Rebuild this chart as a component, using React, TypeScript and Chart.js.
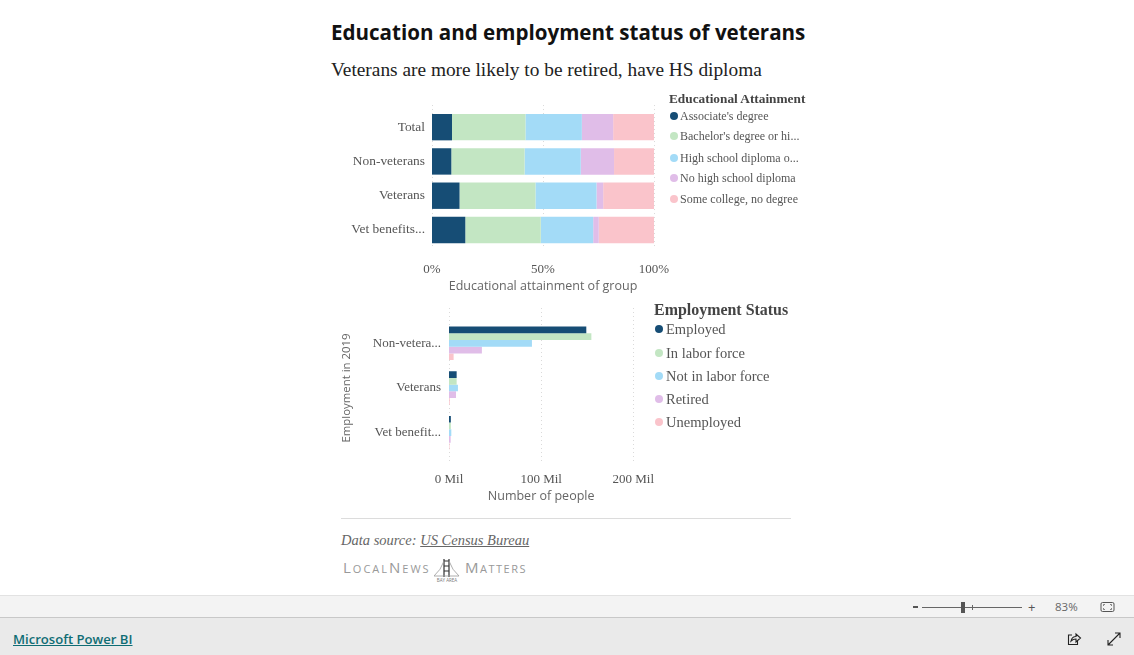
import React, { useEffect, useRef } from "react";
import { Chart, registerables } from "chart.js";

Chart.register(...registerables);

const SERIF = "'Liberation Serif', serif";
const SANS = "'Open Sans', sans-serif";
const TEXT = "#555555";

const palette = ["#164d75", "#c3e6c3", "#a3dbf7", "#e0bde8", "#fac4cb"];

const eduCategories = ["Total", "Non-veterans", "Veterans", "Vet benefits..."];
const eduLegend = ["Associate's degree", "Bachelor's degree or hi...", "High school diploma o...", "No high school diploma", "Some college, no degree"];
const associate = [9, 8.7, 12.4, 15];
const bachelor = [33.1, 33, 34.2, 34];
const highSchool = [25.4, 25.3, 27.5, 23.6];
const noDiploma = [14.1, 15, 3, 2.5];
const someCollege = [18.4, 18, 22.9, 24.9];

const empCategories = ["Non-vetera...", "Veterans", "Vet benefit..."];
const empLegend = ["Employed", "In labor force", "Not in labor force", "Retired", "Unemployed"];
const employed = [149, 8.3, 2];
const inLabor = [154.5, 8.3, 2];
const notInLabor = [90, 9.7, 2.5];
const retired = [35.7, 7.6, 1.8];
const unemployed = [5, 0.8, 0.5];

const eduLegendY = [116, 136, 158, 178, 199];
const empLegendY = [329, 353, 376, 399, 422];

const gridPlugin = (up: number, down: number) => ({
  id: "dottedGrid",
  beforeDatasetsDraw(chart: any) {
    const { ctx, scales, chartArea } = chart;
    ctx.save();
    ctx.strokeStyle = "#dadada";
    ctx.setLineDash([1, 3]);
    ctx.lineWidth = 1;
    scales.x.ticks.forEach((t: any) => {
      const x = Math.round(scales.x.getPixelForValue(t.value)) + 0.5;
      ctx.beginPath();
      ctx.moveTo(x, chartArea.top - up);
      ctx.lineTo(x, chartArea.bottom + down);
      ctx.stroke();
    });
    ctx.restore();
  },
});

function useChart(make: (c: HTMLCanvasElement) => Chart) {
  const ref = useRef<HTMLCanvasElement>(null);
  useEffect(() => {
    const chart = make(ref.current!);
    return () => chart.destroy();
  }, []);
  return ref;
}

const abs = (left: number, top: number, extra: React.CSSProperties = {}): React.CSSProperties => ({
  position: "absolute",
  left,
  top,
  whiteSpace: "nowrap",
  ...extra,
});

function Legend(props: { title: string; titleX: number; titleY: number; titleSize: number; items: string[]; ys: number[]; dotX: number; textX: number; dot: number; size: number }) {
  const { title, titleX, titleY, titleSize, items, ys, dotX, textX, dot, size } = props;
  return (
    <>
      <div style={abs(titleX, titleY - 10, { height: 20, lineHeight: "20px", fontFamily: SERIF, fontWeight: 700, fontSize: titleSize, color: "#444" })}>{title}</div>
      {items.map((t, i) => (
        <React.Fragment key={t}>
          <div style={abs(dotX - dot / 2, ys[i] - dot / 2, { width: dot, height: dot, borderRadius: "50%", background: palette[i] })} />
          <div style={abs(textX, ys[i] - 10, { height: 20, lineHeight: "20px", fontFamily: SERIF, fontSize: size, color: TEXT })}>{t}</div>
        </React.Fragment>
      ))}
    </>
  );
}

export default function App() {
  const eduRef = useChart((c) =>
    new Chart(c, {
      type: "bar",
      plugins: [gridPlugin(5, 1)],
      data: {
        labels: eduCategories,
        datasets: [associate, bachelor, highSchool, noDiploma, someCollege].map((d, i) => ({
          label: eduLegend[i],
          data: d,
          backgroundColor: palette[i],
          categoryPercentage: 0.77,
          barPercentage: 1,
        })),
      },
      options: {
        indexAxis: "y",
        animation: false,
        responsive: false,
        layout: { padding: { top: 13.7, right: 45, left: 0, bottom: 0 } },
        plugins: { legend: { display: false }, tooltip: { enabled: false } },
        scales: {
          x: {
            stacked: true,
            min: 0,
            max: 100,
            border: { display: false },
            grid: { display: false },
            afterFit: (s: any) => { s.height = 47.9; },
            ticks: { stepSize: 50, padding: 7, maxRotation: 0, color: TEXT, font: { family: SERIF, size: 13 }, callback: (v: any) => `${v}%` },
            title: { display: true, text: "Educational attainment of group", color: "#666", font: { family: SANS, size: 12.5 }, padding: { top: 0, bottom: 1 } },
          },
          y: {
            stacked: true,
            border: { display: false },
            grid: { display: false, drawTicks: false },
            afterFit: (s: any) => { s.width = 97; },
            ticks: { padding: 7, color: TEXT, font: { family: SERIF, size: 13.4 } },
          },
        },
      },
    } as any)
  );

  const empRef = useChart((c) =>
    new Chart(c, {
      type: "bar",
      plugins: [gridPlugin(13, 7)],
      data: {
        labels: empCategories,
        datasets: [employed, inLabor, notInLabor, retired, unemployed].map((d, i) => ({
          label: empLegend[i],
          data: d,
          backgroundColor: palette[i],
          categoryPercentage: 0.75,
          barPercentage: 1,
        })),
      },
      options: {
        indexAxis: "y",
        animation: false,
        responsive: false,
        layout: { padding: { top: 21, right: 36.7, left: 0, bottom: 0 } },
        plugins: { legend: { display: false }, tooltip: { enabled: false } },
        scales: {
          x: {
            min: 0,
            max: 200,
            border: { display: false },
            grid: { display: false },
            afterFit: (s: any) => { s.height = 55; },
            ticks: { stepSize: 100, padding: 9, maxRotation: 0, color: TEXT, font: { family: SERIF, size: 13 }, callback: (v: any) => `${v} Mil` },
            title: { display: true, text: "Number of people", color: "#666", font: { family: SANS, size: 12.5 }, padding: { top: 0, bottom: 6 } },
          },
          y: {
            border: { display: false },
            grid: { display: false, drawTicks: false },
            afterFit: (s: any) => { s.width = 114; },
            ticks: { padding: 8, color: TEXT, font: { family: SERIF, size: 13 } },
            title: { display: true, text: "Employment in 2019", color: "#666", font: { family: SANS, size: 11.4 }, padding: { top: 5, bottom: 0 } },
          },
        },
      },
    } as any)
  );

  return (
    <div style={{ position: "absolute", left: 0, top: 0, width: 1134, height: 655, overflow: "hidden", background: "#fff" }}>
      <div style={abs(331, 17, { height: 30, lineHeight: "30px", fontFamily: SANS, fontWeight: 700, fontSize: 20.57, color: "#111" })}>Education and employment status of veterans</div>
      <div style={abs(331, 58, { height: 24, lineHeight: "24px", fontFamily: SERIF, fontSize: 19.35, color: "#222" })}>Veterans are more likely to be retired, have HS diploma</div>

      <canvas ref={eduRef} width={364} height={200} style={abs(335, 95, { display: "block" })} />
      <canvas ref={empRef} width={335} height={210} style={abs(335, 300, { display: "block" })} />

      <Legend title="Educational Attainment" titleX={669} titleY={99} titleSize={13.3} items={eduLegend} ys={eduLegendY} dotX={674} textX={680} dot={8} size={12} />
      <Legend title="Employment Status" titleX={654} titleY={310} titleSize={15.95} items={empLegend} ys={empLegendY} dotX={659} textX={666} dot={8.5} size={14.5} />

      <div style={abs(341, 518, { width: 450, height: 1, background: "#dcdcdc" })} />
      <div style={abs(341, 531, { height: 18, lineHeight: "18px", fontFamily: SERIF, fontStyle: "italic", fontSize: 14.5, color: "#666" })}>
        Data source: <span style={{ textDecoration: "underline" }}>US Census Bureau</span>
      </div>
      <div style={abs(343, 558, { height: 18, lineHeight: "18px", fontFamily: SANS, fontSize: 11, letterSpacing: 2, color: "#999" })}>
        <span style={{ fontSize: 15 }}>L</span>OCAL<span style={{ fontSize: 15 }}>N</span>EWS
      </div>
      <svg style={abs(434, 558)} width={26} height={25} viewBox="0 0 26 25">
        <path d="M10 1v18M15 1v18M10 3h5M10 8h5M10 13h5" stroke="#333" strokeWidth={1.2} fill="none" />
        <path d="M0 18Q7 12 10 3M25 18Q18 12 15 3M0 18h25" stroke="#999" strokeWidth={0.8} fill="none" />
        <text x={13} y={24} textAnchor="middle" fontSize={4.5} fontFamily={SANS} fill="#777">BAY AREA</text>
      </svg>
      <div style={abs(465, 558, { height: 18, lineHeight: "18px", fontFamily: SANS, fontSize: 11, letterSpacing: 1.5, color: "#999" })}>
        <span style={{ fontSize: 15 }}>M</span>ATTERS
      </div>

      <div style={abs(0, 595, { width: 1134, height: 23, boxSizing: "border-box", background: "#f3f3f3", borderTop: "1px solid #e2e2e2", borderBottom: "1px solid #c8c8c8" })} />
      <div style={abs(0, 618, { width: 1134, height: 37, background: "#eaeaea" })} />

      <div style={abs(913, 606, { width: 5, height: 2, background: "#555" })} />
      <div style={abs(922, 607, { width: 100, height: 1, background: "#666" })} />
      <div style={abs(961, 602, { width: 4, height: 11, background: "#555" })} />
      <div style={abs(972, 605, { width: 1, height: 5, background: "#666" })} />
      <div style={abs(1028, 598, { height: 18, lineHeight: "18px", fontFamily: SANS, fontSize: 13, color: "#555" })}>+</div>
      <div style={abs(1055, 598, { height: 18, lineHeight: "18px", fontFamily: SANS, fontSize: 11.5, color: "#666" })}>83%</div>
      <svg style={abs(1100, 601)} width={16} height={12}>
        <rect x={1} y={1.5} width={13} height={9} rx={1.5} fill="none" stroke="#555" />
        <path d="M3.5 5V3.5H5M10 3.5h1.5V5M3.5 7v1.5H5M10 8.5h1.5V7" fill="none" stroke="#555" strokeWidth={0.7} />
      </svg>

      <a href="#" style={abs(13, 630, { height: 18, lineHeight: "18px", fontFamily: SANS, fontWeight: 600, fontSize: 13.1, color: "#0f6d74", textDecoration: "underline" })}>Microsoft Power BI</a>
      <svg style={abs(1067, 632)} width={15} height={14}>
        <path d="M5 3H1.5v9.5h9V9" fill="none" stroke="#222" strokeWidth={1.1} />
        <path d="M4 9Q5 4.5 9 4.5V2l4.5 4-4.5 4V7Q6 7 4 9Z" fill="none" stroke="#222" strokeWidth={1.1} />
      </svg>
      <svg style={abs(1107, 632)} width={14} height={14}>
        <path d="M1 13 13 1M8 1h5v5M1 8v5h5" fill="none" stroke="#222" strokeWidth={1.1} />
      </svg>
    </div>
  );
}
